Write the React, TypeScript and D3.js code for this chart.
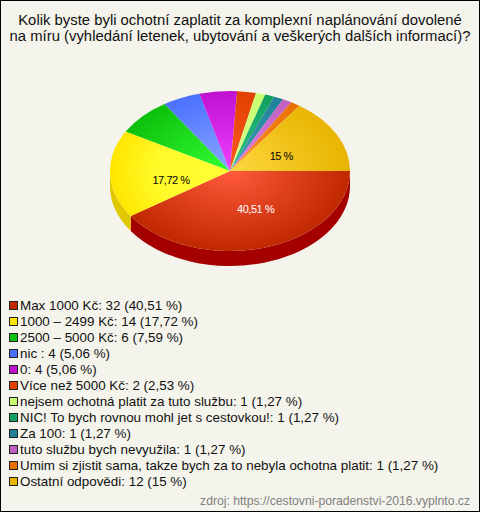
import React from "react";
import * as d3 from "d3";

const titleLines = [
  "Kolik byste byli ochotní zaplatit za komplexní naplánování dovolené",
  "na míru (vyhledání letenek, ubytování a veškerých dalších informací)?",
];
const categories = [
  "Max 1000 Kč", "1000 – 2499 Kč", "2500 – 5000 Kč", "nic ", "0", "Více než 5000 Kč",
  "nejsem ochotná platit za tuto službu", "NIC! To bych rovnou mohl jet s cestovkou!", "Za 100",
  "tuto službu bych nevyužila", "Umim si zjistit sama, takze bych za to nebyla ochotna platit", "Ostatní odpovědi",
];
const counts = [32, 14, 6, 4, 4, 2, 1, 1, 1, 1, 1, 12];
const percents = ["40,51", "17,72", "7,59", "5,06", "5,06", "2,53", "1,27", "1,27", "1,27", "1,27", "1,27", "15"];
const baseColors = ["#c02800", "#ffe600", "#0cc00c", "#4a70ff", "#c010d0", "#e04000", "#c8ff70", "#10a060", "#208098", "#c060c0", "#e87000", "#e8b400"];
const lightColors = ["#ff5a3c", "#ffff33", "#33ff33", "#8aa8ff", "#f040ff", "#ff5a20", "#d8ff90", "#30c080", "#40a0b8", "#e080e0", "#ff9030", "#ffd840"];
const midMix = [0.6, 0.15, 0.6, 0.6, 0.6, 0.6, 0.6, 0.6, 0.6, 0.6, 0.6, 0.6];
const sideColors = ["#a50000", "#e0c800"];
const labelled = [0, 1, 11];
const labelShift: Record<number, [number, number]> = { 0: [8, 0], 1: [1, 7], 11: [-2, 3] };
const footer = "zdroj: https://cestovni-poradenstvi-2016.vyplnto.cz";

const W = 480, H = 512, cx = 230, cy = 171, rx = 120, ry = 80, depth = 15;

export default function App() {
  const pie = d3.pie<number>().value((d) => d).sort(null)(counts);
  const arc = d3.arc<d3.PieArcDatum<number>>().innerRadius(0).outerRadius(rx);
  const pieShifted = pie.map((p) => ({ ...p, startAngle: p.startAngle + Math.PI / 2, endAngle: p.endAngle + Math.PI / 2 }));
  const side = (a0: number, a1: number, i: number) => {
    const x0 = cx + rx * Math.cos(a0), y0 = cy + ry * Math.sin(a0);
    const x1 = cx + rx * Math.cos(a1), y1 = cy + ry * Math.sin(a1);
    return (
      <path key={i} fill={sideColors[i]}
        d={`M${x0} ${y0}A${rx} ${ry} 0 0 1 ${x1} ${y1}L${x1} ${y1 + depth}A${rx} ${ry} 0 0 0 ${x0} ${y0 + depth}Z`} />
    );
  };
  const redEnd = pie[0].endAngle;
  return (
    <svg width={W} height={H} style={{ position: "absolute", left: 0, top: 0, display: "block" }} fontFamily="'Liberation Sans', Arial, sans-serif">
      <defs>
        {baseColors.map((c, i) => (
          <radialGradient key={i} id={`g${i}`} gradientUnits="userSpaceOnUse" cx={0} cy={0} r={rx}>
            <stop offset="0" stopColor={lightColors[i]} />
            <stop offset="0.6" stopColor={d3.interpolateRgb(lightColors[i], c)(midMix[i])} />
            <stop offset="1" stopColor={c} />
          </radialGradient>
        ))}
      </defs>
      <rect x={0.5} y={0.5} width={W - 1} height={H - 1} fill="#f5f4ec" stroke="#000" />
      {titleLines.map((t, i) => (
        <text key={i} x={240} y={25 + i * 16} textAnchor="middle" fontSize={14.87} fill="#111">{t}</text>
      ))}
      {side(0, redEnd, 0)}
      {side(redEnd, Math.PI, 1)}
      <g transform={`translate(${cx},${cy}) scale(1,${ry / rx})`}>
        {pieShifted.map((p, i) => (
          <path key={i} d={arc(p) ?? ""} fill={`url(#g${i})`} />
        ))}
      </g>
      {labelled.map((i) => {
        const mid = (pie[i].startAngle + pie[i].endAngle) / 2;
        const s = labelShift[i];
        return (
          <text key={i} x={cx + 0.5 * rx * Math.cos(mid) + s[0]} y={cy + 0.5 * ry * Math.sin(mid) + s[1] + 4}
            textAnchor="middle" fontSize={11} letterSpacing={-0.45} fill={i === 0 ? "#fff" : "#000"}>
            {percents[i]} %
          </text>
        );
      })}
      {categories.map((c, i) => (
        <g key={i} transform={`translate(0,${305 + i * 16})`}>
          <rect x={9.5} y={-3.5} width={8} height={8} fill={baseColors[i]} stroke="#222" />
          <text x={20} y={5} fontSize={13.4} fill="#111">{`${c}: ${counts[i]} (${percents[i]} %)`}</text>
        </g>
      ))}
      <text x={470} y={505} textAnchor="end" fontSize={12.18} fill="#808080">{footer}</text>
    </svg>
  );
}
